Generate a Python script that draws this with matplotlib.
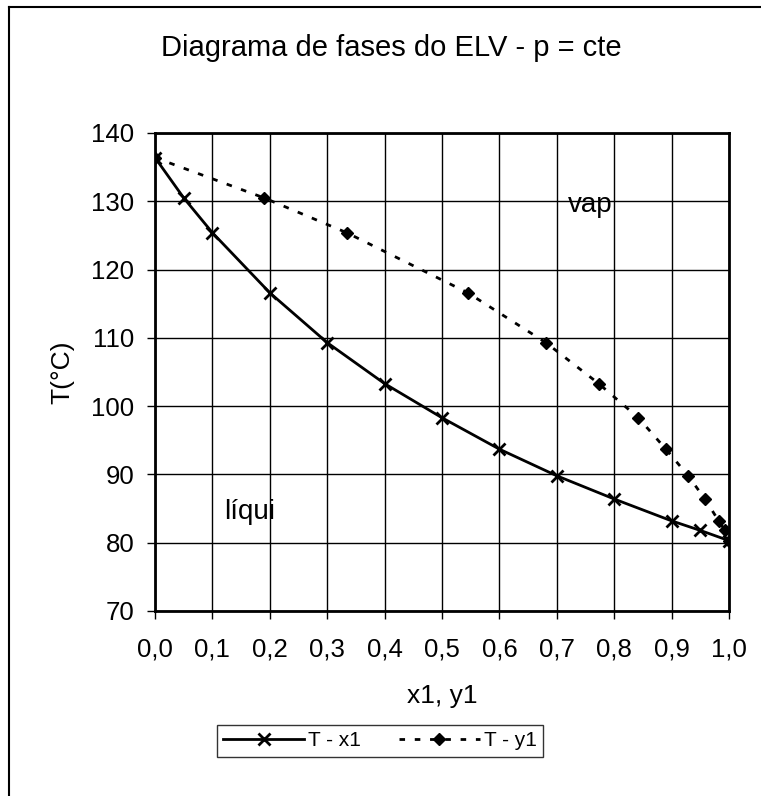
import matplotlib
matplotlib.use('Agg')
import matplotlib.pyplot as plt
from matplotlib.lines import Line2D
from matplotlib.ticker import MultipleLocator, FuncFormatter

plt.rcParams['font.family'] = ['Liberation Sans', 'DejaVu Sans']

# donnees
x1 = [0.0, 0.05, 0.1, 0.2, 0.3, 0.4, 0.5, 0.6, 0.7, 0.8, 0.9, 0.95, 1.0]
y1 = [0.0, 0.19, 0.334, 0.545, 0.681, 0.773, 0.842, 0.890, 0.929, 0.958, 0.982, 0.993, 1.0]
T = [136.4, 130.5, 125.4, 116.6, 109.3, 103.3, 98.3, 93.7, 89.8, 86.4, 83.2, 81.8, 80.3]

titre = 'Diagrama de fases do ELV - p = cte'

fig = plt.figure(figsize=(7.61, 7.96), dpi=100)
ax = fig.add_axes([155/761, 1-611/796, 574/761, 478/796])

ax.plot(x1, T, color='black', lw=2, marker='x', ms=9, mew=2, label='T - x1', zorder=3)
ax.plot(y1, T, color='black', lw=2, ls=(0, (2, 3.5)), marker='D', ms=6,
        mfc='black', mec='black', label='T - y1', zorder=3)

ax.set_xlim(0, 1)
ax.set_ylim(70, 140)
ax.xaxis.set_major_locator(MultipleLocator(0.1))
ax.yaxis.set_major_locator(MultipleLocator(10))
ax.xaxis.set_major_formatter(FuncFormatter(lambda v, p: ('%.1f' % v).replace('.', ',')))
ax.grid(True, color='black', lw=1)
ax.set_axisbelow(True)
for s in ax.spines.values():
    s.set_linewidth(2)
ax.tick_params(direction='out', length=6, width=1, labelsize=18.5)
ax.tick_params(axis='x', pad=13)
ax.tick_params(axis='y', pad=9)

ax.set_xlabel('x1, y1', fontsize=19, labelpad=16)
ax.set_ylabel('T(°C)', fontsize=19, labelpad=12)

ax.text(0.12, 84.5, 'líqui', fontsize=20, va='center', ha='left')
ax.text(0.72, 129.5, 'vap', fontsize=20, va='center', ha='left')

fig.text(391/761, 1-48/796, titre, fontsize=21, ha='center', va='center')

leg = fig.legend(loc='center', bbox_to_anchor=(380/761, 1-741/796), ncol=2,
                 fontsize=15, frameon=True, fancybox=False, handlelength=3.9,
                 handletextpad=0.2, columnspacing=1.8, borderpad=0.3)
leg.get_frame().set_edgecolor('black')
leg.get_frame().set_linewidth(1)

# cadre de la figure
fig.add_artist(Line2D([9/761, 9/761], [0, 1-7/796], color='black', lw=1.5, transform=fig.transFigure))
fig.add_artist(Line2D([9/761, 1], [1-7/796, 1-7/796], color='black', lw=1.5, transform=fig.transFigure))

fig.savefig('out.png', dpi=100)
